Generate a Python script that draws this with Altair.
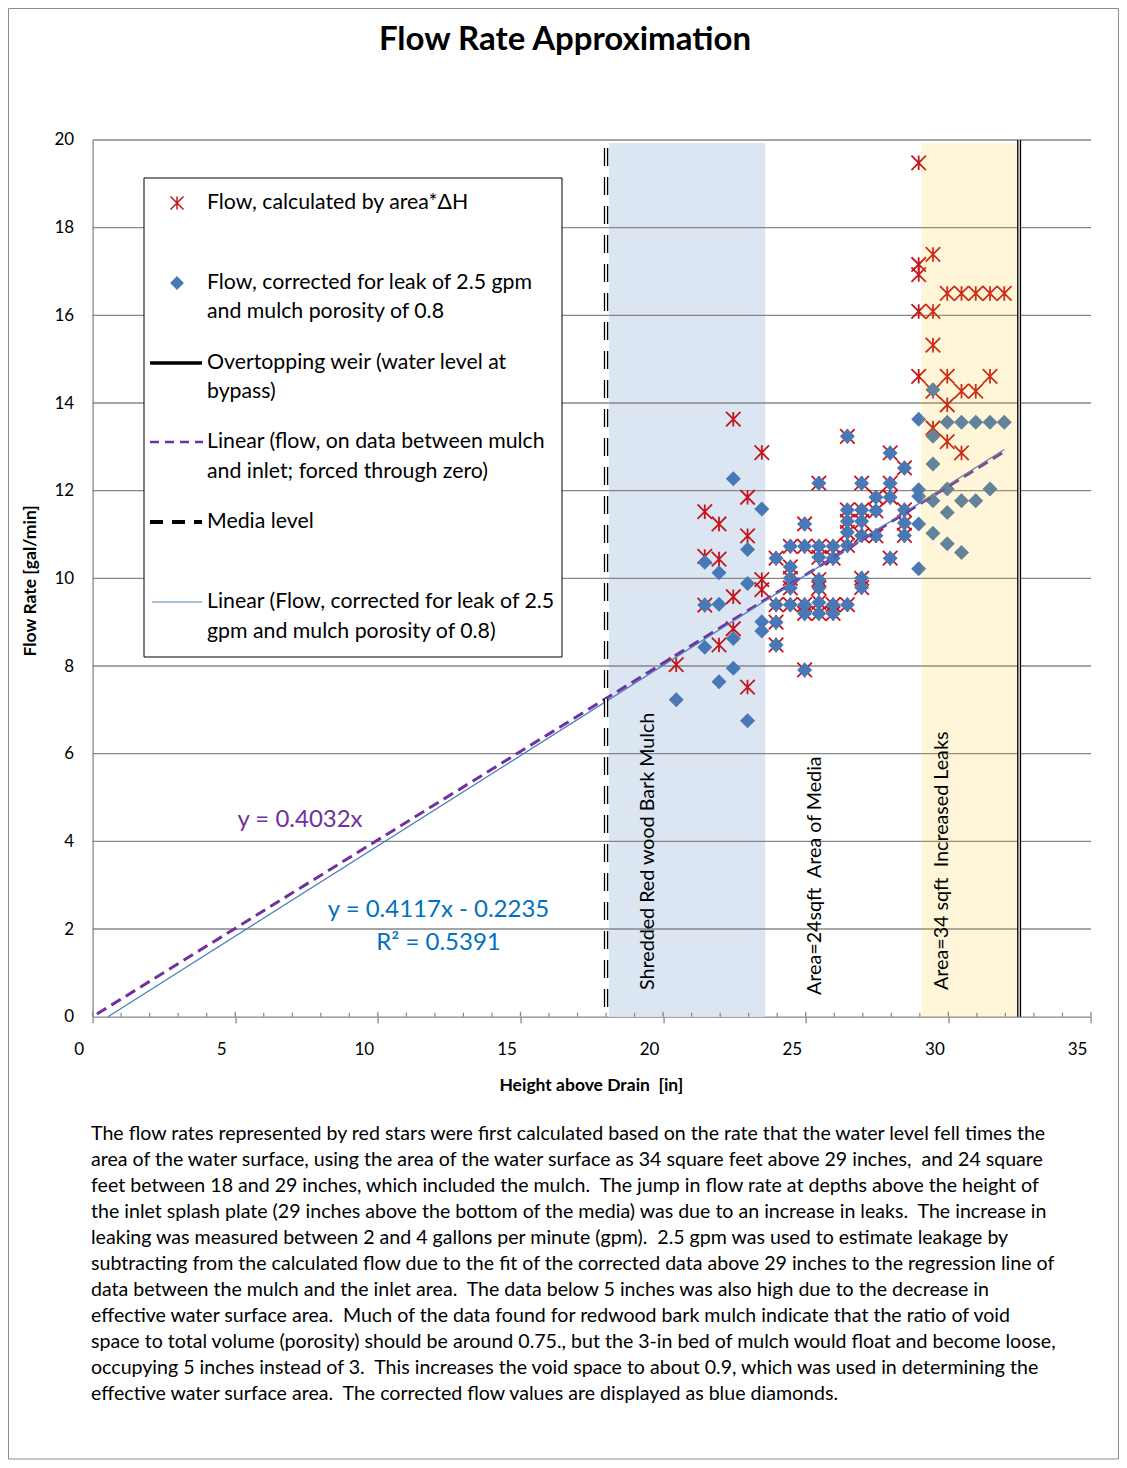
import altair as alt
import pandas as pd

W = 998.4
H = 876.7
FONT = "Lato"
GRID = "#878787"
NB2 = " \u00a0"  # two visible spaces

title_text = "Flow Rate Approximation"
x_title = "Height above Drain" + NB2 + "[in]"
y_title = "Flow Rate [gal/min]"

# ---- series: flow calculated by area*dH (red stars) ----
red_x = [20.46,
         21.46, 21.46, 21.46,
         21.96, 21.96, 21.96,
         22.46, 22.46, 22.46,
         22.96, 22.96, 22.96,
         23.46, 23.46, 23.46,
         23.96, 23.96, 23.96, 23.96,
         24.46, 24.46, 24.46, 24.46, 24.46,
         24.96, 24.96, 24.96, 24.96, 24.96,
         25.46, 25.46, 25.46, 25.46, 25.46, 25.46, 25.46,
         25.96, 25.96, 25.96, 25.96,
         26.46, 26.46, 26.46, 26.46, 26.46, 26.46,
         26.96, 26.96, 26.96, 26.96, 26.96, 26.96,
         27.46, 27.46, 27.46,
         27.96, 27.96, 27.96, 27.96,
         28.46, 28.46, 28.46, 28.46,
         28.96, 28.96, 28.96, 28.96, 28.96,
         29.46, 29.46, 29.46, 29.46, 29.46,
         29.96, 29.96, 29.96, 29.96,
         30.46, 30.46, 30.46,
         30.96, 30.96,
         31.46, 31.46,
         31.96]
red_y = [8.03,
         11.52, 10.50, 9.39,
         11.24, 10.44, 8.48,
         13.63, 9.58, 8.85,
         11.85, 10.97, 7.52,
         12.87, 9.97, 9.74,
         10.46, 9.40, 9.00, 8.48,
         10.73, 10.26, 10.00, 9.78, 9.40,
         11.24, 10.73, 9.40, 9.20, 7.91,
         12.17, 10.73, 10.48, 9.97, 9.78, 9.45, 9.20,
         10.73, 10.46, 9.40, 9.20,
         13.24, 11.56, 11.30, 11.05, 10.75, 9.40,
         12.17, 11.56, 11.30, 10.98, 10.00, 9.79,
         11.85, 11.54, 10.97,
         12.86, 12.17, 11.85, 10.46,
         12.52, 11.56, 11.26, 10.98,
         19.48, 17.16, 16.93, 16.09, 14.61,
         17.39, 16.09, 15.32, 14.27, 13.43,
         16.50, 14.61, 13.96, 13.12,
         16.50, 14.27, 12.86,
         16.50, 14.27,
         16.50, 14.61,
         16.50]

# ---- series: flow corrected for leak and porosity (blue diamonds) ----
blue_x = [20.46,
          21.46, 21.46, 21.46,
          21.96, 21.96, 21.96,
          22.46, 22.46, 22.46,
          22.96, 22.96, 22.96,
          23.46, 23.46, 23.46,
          23.96, 23.96, 23.96, 23.96,
          24.46, 24.46, 24.46, 24.46, 24.46,
          24.96, 24.96, 24.96, 24.96, 24.96,
          25.46, 25.46, 25.46, 25.46, 25.46, 25.46, 25.46,
          25.96, 25.96, 25.96, 25.96,
          26.46, 26.46, 26.46, 26.46, 26.46, 26.46,
          26.96, 26.96, 26.96, 26.96, 26.96, 26.96,
          27.46, 27.46, 27.46,
          27.96, 27.96, 27.96, 27.96,
          28.46, 28.46, 28.46, 28.46,
          28.96, 28.96, 28.96, 28.96, 28.96,
          29.46, 29.46, 29.46, 29.46, 29.46,
          29.96, 29.96, 29.96, 29.96,
          30.46, 30.46, 30.46,
          30.96, 30.96,
          31.46, 31.46,
          31.96]
blue_y = [7.23,
          10.37, 9.39, 8.43,
          10.13, 9.41, 7.64,
          12.27, 8.63, 7.95,
          10.66, 9.88, 6.75,
          11.58, 9.01, 8.80,
          10.46, 9.40, 9.00, 8.48,
          10.73, 10.26, 10.00, 9.78, 9.40,
          11.24, 10.73, 9.40, 9.20, 7.91,
          12.17, 10.73, 10.48, 9.97, 9.78, 9.45, 9.20,
          10.73, 10.46, 9.40, 9.20,
          13.24, 11.56, 11.30, 11.05, 10.75, 9.40,
          12.17, 11.56, 11.30, 10.98, 10.00, 9.79,
          11.85, 11.54, 10.97,
          12.86, 12.17, 11.85, 10.46,
          12.52, 11.56, 11.26, 10.98,
          13.63, 12.02, 11.87, 11.24, 10.22,
          14.30, 13.24, 12.61, 11.77, 11.03,
          13.56, 12.04, 11.50, 10.79,
          13.56, 11.77, 10.59,
          13.56, 11.77,
          13.56, 12.04,
          13.56]

# ---- trend lines (end points) ----
fit_zero_x = [0.15, 31.96]
fit_zero_y = [0.06, 12.89]
fit_corr_x = [0.54, 31.96]
fit_corr_y = [0.0, 12.94]

# ---- reference lines and shaded zones ----
media_level = [18.0]
weir_level = [32.48]
mulch_zone = {"x0": [18.1], "x1": [23.58], "y0": [0.0], "y1": [19.93]}
leak_zone = {"x0": [29.05], "x1": [32.45], "y0": [0.0], "y1": [19.93]}

# ---- axes ----
x_major = [0, 5, 10, 15, 20, 25, 30, 35]
x_minor = [1, 2, 3, 4, 6, 7, 8, 9, 11, 12, 13, 14, 16, 17, 18, 19, 21, 22,
           23, 24, 26, 27, 28, 29, 31, 32, 33, 34]
y_major = [0, 2, 4, 6, 8, 10, 12, 14, 16, 18, 20]
y_grid = [2, 4, 6, 8, 10, 12, 14, 16, 18, 20]

# ---- texts ----
eq_zero = "y = 0.4032x"
eq_corr = "y = 0.4117x - 0.2235"
r2_corr = "R² = 0.5391"
zone_labels = ["Shredded Red wood Bark Mulch",
               "Area=24sqft" + NB2 + "Area of Media",
               "Area=34 sqft" + NB2 + "Increased Leaks"]
legend_labels = [
    ["Flow, calculated by area*ΔH"],
    ["Flow, corrected for leak of 2.5 gpm", "and mulch porosity of 0.8"],
    ["Overtopping weir (water level at", "bypass)"],
    ["Linear (flow, on data between mulch", "and inlet; forced through zero)"],
    ["Media level"],
    ["Linear (Flow, corrected for leak of 2.5", "gpm and mulch porosity of 0.8)"],
]
note_lines = [
    "The flow rates represented by red stars were first calculated based on the rate that the water level fell times the",
    "area of the water surface, using the area of the water surface as 34 square feet above 29 inches,  and 24 square",
    "feet between 18 and 29 inches, which included the mulch.  The jump in flow rate at depths above the height of",
    "the inlet splash plate (29 inches above the bottom of the media) was due to an increase in leaks.  The increase in",
    "leaking was measured between 2 and 4 gallons per minute (gpm).  2.5 gpm was used to estimate leakage by",
    "subtracting from the calculated flow due to the fit of the corrected data above 29 inches to the regression line of",
    "data between the mulch and the inlet area.  The data below 5 inches was also high due to the decrease in",
    "effective water surface area.  Much of the data found for redwood bark mulch indicate that the ratio of void",
    "space to total volume (porosity) should be around 0.75., but the 3-in bed of mulch would float and become loose,",
    "occupying 5 inches instead of 3.  This increases the void space to about 0.9, which was used in determining the",
    "effective water surface area.  The corrected flow values are displayed as blue diamonds.",
]

RED = "#C4161C"
BLUE = "#4878B5"
PURPLE = "#7030A0"
EQBLUE = "#0070C0"
STAR = "M-1,-1L1,1M-1,1L1,-1M0,-1L0,1"
STAR_SIZE = 210
DIAMOND_SIZE = 225

xs = alt.Scale(domain=[0, 35], nice=False, zero=False)
ys = alt.Scale(domain=[0, 20], nice=False, zero=False)

x_axis = alt.Axis(values=x_major, format="d", grid=False, domainColor=GRID,
                  domainWidth=1.3, tickColor=GRID, tickWidth=1.3, tickSize=6,
                  labelOffset=-14, labelBaseline="middle", labelPadding=27,
                  labelFlush=False,
                  labelFont=FONT, labelFontSize=17, labelColor="#000",
                  titleFont=FONT, titleFontSize=17.5, titleFontWeight="bold",
                  titleColor="#000", titleX=W / 2 - 1, titleY=69,
                  titleBaseline="middle", titleAlign="center")
y_axis = alt.Axis(values=y_major, format="d", grid=False, domainColor=GRID,
                  domainWidth=1.3, ticks=False, tickSize=0, labelPadding=19,
                  labelFlush=False,
                  labelFont=FONT, labelFontSize=17, labelColor="#000",
                  titleFont=FONT, titleFontSize=17.5, titleFontWeight="bold",
                  titleColor="#000", titleX=-62, titleY=H / 2 + 2,
                  titleAngle=270, titleBaseline="middle", titleAlign="center")


def X(f):
    return alt.X(f, type="quantitative", scale=xs, axis=x_axis, title=x_title)


def Y(f):
    return alt.Y(f, type="quantitative", scale=ys, axis=y_axis, title=y_title)


red_df = pd.DataFrame({"x": red_x, "y": red_y})
blue_df = pd.DataFrame({"x": blue_x, "y": blue_y})
fz_df = pd.DataFrame({"x": fit_zero_x, "y": fit_zero_y})
fc_df = pd.DataFrame({"x": fit_corr_x, "y": fit_corr_y})
one = pd.DataFrame({"a": [0]})

layers = []

# outer border
layers.append(alt.Chart(one).mark_rect(
    fillOpacity=0, stroke="#8C8C8C", strokeWidth=1).encode(
    x=alt.value(-84.1), x2=alt.value(1025.9), y=alt.value(-131.5), y2=alt.value(1319)))

# mulch zone
layers.append(alt.Chart(pd.DataFrame(mulch_zone)).mark_rect(color="#DCE6F2").encode(
    x=X("x0"), x2="x1:Q", y=Y("y0"), y2="y1:Q"))

# gridlines
layers.append(alt.Chart(pd.DataFrame({"g": y_grid})).mark_rule(
    color=GRID, strokeWidth=1.3).encode(
    y=Y("g"), x=alt.value(0), x2=alt.value(W)))

# red stars
layers.append(alt.Chart(red_df).mark_point(
    shape=STAR, filled=False, stroke=RED, strokeWidth=1.8, size=STAR_SIZE, opacity=1).encode(
    x=X("x"), y=Y("y")))

# blue diamonds
layers.append(alt.Chart(blue_df).mark_point(
    shape="diamond", filled=True, fill=BLUE, strokeWidth=0, size=DIAMOND_SIZE, opacity=1).encode(
    x=X("x"), y=Y("y")))

# trend lines
layers.append(alt.Chart(fz_df).mark_line(
    color=PURPLE, strokeWidth=3, strokeDash=[11, 6]).encode(x=X("x"), y=Y("y")))
layers.append(alt.Chart(fc_df).mark_line(
    color="#4A7EBB", strokeWidth=1.3).encode(x=X("x"), y=Y("y")))

# leak zone (translucent overlay)
layers.append(alt.Chart(pd.DataFrame(leak_zone)).mark_rect(
    color="#FFC000", opacity=0.15).encode(
    x=X("x0"), x2="x1:Q", y=Y("y0"), y2="y1:Q"))

# media level (double dashed line)
media_df = pd.DataFrame({"m": media_level})
layers.append(alt.Chart(media_df).mark_rule(
    color="#000", strokeWidth=4.4, strokeDash=[18, 11]).encode(
    x=X("m"), y=alt.value(8), y2=alt.value(H)))
layers.append(alt.Chart(media_df).mark_rule(
    color="#fff", strokeWidth=1.8, strokeDash=[18, 11]).encode(
    x=X("m"), y=alt.value(8), y2=alt.value(H)))

# overtopping weir (double line)
weir_df = pd.DataFrame({"w": weir_level})
layers.append(alt.Chart(weir_df).mark_rule(color="#000", strokeWidth=4).encode(
    x=X("w"), y=alt.value(0), y2=alt.value(H)))
layers.append(alt.Chart(weir_df).mark_rule(color="#fff", strokeWidth=1.3).encode(
    x=X("w"), y=alt.value(0), y2=alt.value(H)))

# x-axis tick parts above the axis line
layers.append(alt.Chart(pd.DataFrame({"t": x_major})).mark_rule(
    color=GRID, strokeWidth=1.3).encode(
    x=X("t"), y=alt.value(H - 5), y2=alt.value(H)))
layers.append(alt.Chart(pd.DataFrame({"t": x_minor})).mark_rule(
    color=GRID, strokeWidth=1.2).encode(
    x=X("t"), y=alt.value(H - 4), y2=alt.value(H)))


def text(t, x, y, size, color="#000", weight="normal", align="center", angle=0):
    return alt.Chart(one).mark_text(
        text=t.replace("  ", NB2), font=FONT, fontSize=size, color=color,
        fontWeight=weight, align=align, baseline="middle", angle=angle).encode(
        x=alt.value(x), y=alt.value(y))


# title
layers.append(text(title_text, 472.4, -100, 33, weight="bold"))

# equations
layers.append(text(eq_zero, 207.4, 680, 24, color=PURPLE))
layers.append(text(eq_corr, 345.9, 770, 24, color=EQBLUE))
layers.append(text(r2_corr, 345.9, 803, 24, color=EQBLUE))

# zone labels (vertical)
layers.append(text(zone_labels[0], 555.4, 850, 19.7, align="left", angle=270))
layers.append(text(zone_labels[1], 722.4, 855, 19.7, align="left", angle=270))
layers.append(text(zone_labels[2], 849.4, 850, 19.7, align="left", angle=270))

# legend box
layers.append(alt.Chart(one).mark_rect(fill="#fff", stroke="#000", strokeWidth=1).encode(
    x=alt.value(51.4), x2=alt.value(469.4), y=alt.value(38), y2=alt.value(517)))
layers.append(alt.Chart(one).mark_point(
    shape=STAR, filled=False, stroke=RED, strokeWidth=1.5, size=170, opacity=1).encode(
    x=alt.value(84.4), y=alt.value(63)))
layers.append(alt.Chart(one).mark_point(
    shape="diamond", filled=True, fill=BLUE, strokeWidth=0, size=190, opacity=1).encode(
    x=alt.value(84.4), y=alt.value(143)))
layers.append(alt.Chart(one).mark_rule(color="#000", strokeWidth=3.5).encode(
    x=alt.value(57.4), x2=alt.value(109.4), y=alt.value(223)))
layers.append(alt.Chart(one).mark_rule(color=PURPLE, strokeWidth=2.5, strokeDash=[9, 6]).encode(
    x=alt.value(57.4), x2=alt.value(110.4), y=alt.value(302)))
layers.append(alt.Chart(one).mark_rule(color="#000", strokeWidth=4, strokeDash=[13, 9]).encode(
    x=alt.value(57.4), x2=alt.value(109.4), y=alt.value(382)))
layers.append(alt.Chart(one).mark_rule(color="#4A7EBB", strokeWidth=1.2).encode(
    x=alt.value(59.4), x2=alt.value(109.4), y=alt.value(462)))

legend_y = [[63], [143, 172], [223, 252], [302, 332], [382], [462, 492]]
for lines, ys_ in zip(legend_labels, legend_y):
    for ln, yy in zip(lines, ys_):
        layers.append(text(ln, 114.4, yy, 21.3, align="left"))

# explanatory note
for i, ln in enumerate(note_lines):
    layers.append(text(ln, -1.6, 994 + 26 * i, 19.6, align="left"))

chart = alt.layer(*layers).properties(
    width=W, height=H,
    autosize=alt.AutoSizeParams(type="none"),
    padding={"left": 84.6, "top": 132, "right": 28, "bottom": 443},
    background="#ffffff",
).configure_view(strokeWidth=0)

chart.save("out.html", embed_options={"renderer": "svg", "actions": False})
